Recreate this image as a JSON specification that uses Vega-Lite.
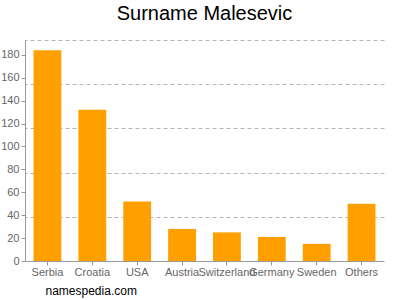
{
  "$schema": "https://vega.github.io/schema/vega-lite/v6.json",
  "autosize": {"type": "none"},
  "width": 359,
  "height": 221,
  "padding": {"left": 25, "top": 40, "right": 16, "bottom": 39},
  "background": "white",
  "title": {"text": "Surname Malesevic", "font": "Liberation Sans", "fontSize": 20, "fontWeight": "normal", "color": "#000000", "offset": 16},
  "data": {"values": [
    {"country": "Serbia", "count": 184},
    {"country": "Croatia", "count": 132},
    {"country": "USA", "count": 52},
    {"country": "Austria", "count": 28},
    {"country": "Switzerland", "count": 25},
    {"country": "Germany", "count": 21},
    {"country": "Sweden", "count": 15},
    {"country": "Others", "count": 50}
  ]},
  "config": {
    "view": {"stroke": null},
    "axis": {"labelFont": "Liberation Sans", "titleFont": "Liberation Sans", "labelColor": "#666666", "labelFontSize": 11, "domainColor": "#999999", "tickColor": "#999999"}
  },
  "layer": [
    {
      "mark": {"type": "bar", "color": "#ffa000"},
      "encoding": {
        "x": {"field": "country", "type": "nominal", "sort": null,
          "scale": {"paddingInner": 0.38, "paddingOuter": 0.19},
          "axis": {"labelAngle": 0, "labelPadding": 1, "tickSize": 4, "title": "namespedia.com", "titleX": 20, "titleY": 24, "titleAlign": "left", "titleAnchor": "start", "titleColor": "#000000", "titleFontSize": 12, "titleFontWeight": "normal", "labelOverlap": false}},
        "y": {"field": "count", "type": "quantitative", "scale": {"domain": [0, 193], "nice": false},
          "axis": {"values": [0, 20, 40, 60, 80, 100, 120, 140, 160, 180], "grid": false, "title": null, "tickSize": 4, "labelPadding": 2}}
      }
    },
    {
      "mark": {"type": "bar", "opacity": 0},
      "encoding": {
        "x": {"field": "country", "type": "nominal", "sort": null},
        "y": {"field": "count", "type": "quantitative",
          "axis": {"orient": "right", "values": [38.6, 77.2, 115.8, 154.4, 193], "grid": true, "gridDash": [4, 3], "gridColor": "#b5b5b5", "labels": false, "ticks": false, "domain": false, "title": null}}
      }
    }
  ],
  "resolve": {"axis": {"y": "independent"}}
}
